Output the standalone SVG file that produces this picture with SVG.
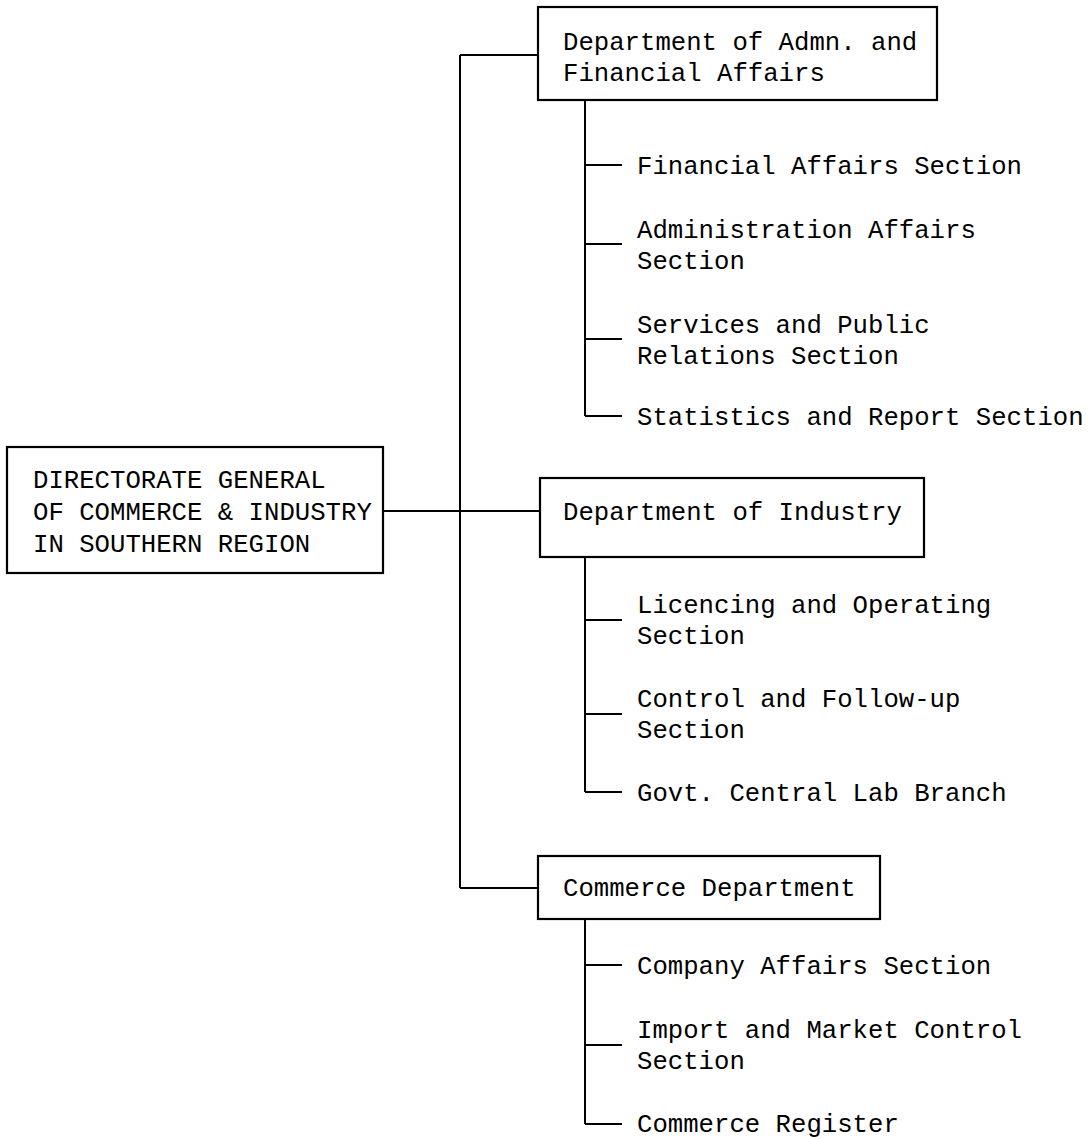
<svg xmlns="http://www.w3.org/2000/svg" width="1092" height="1139" viewBox="0 0 1092 1139">
<style>
.box{fill:none;stroke:#000;stroke-width:2.2}
.ln{fill:none;stroke:#000;stroke-width:2}
.t{font-family:"Liberation Mono","Courier New",monospace;font-size:25.7px;fill:#000}
</style>
<rect width="1092" height="1139" fill="#fff"/>
<g id="connectors">
<path class="ln" d="M383 511 H540"/>
<path class="ln" d="M460 55 V888 M460 55 H538 M460 888 H538"/>
<path class="ln" d="M585 100 V416 M585 165 H622 M585 244 H622 M585 339 H622 M585 416 H622"/>
<path class="ln" d="M585 557 V792 M585 620 H622 M585 714 H622 M585 792 H622"/>
<path class="ln" d="M585 919 V1124 M585 965 H622 M585 1045 H622 M585 1124 H622"/>
</g>
<g id="directorate">
<rect class="box" x="7" y="447" width="376" height="126"/>
<text class="t" x="33" y="488" textLength="292.6" lengthAdjust="spacingAndGlyphs">DIRECTORATE GENERAL</text>
<text class="t" x="33" y="520" textLength="338.8" lengthAdjust="spacingAndGlyphs">OF COMMERCE &amp; INDUSTRY</text>
<text class="t" x="33" y="552" textLength="277.2" lengthAdjust="spacingAndGlyphs">IN SOUTHERN REGION</text>
</g>
<g id="dept-admn">
<rect class="box" x="538" y="7" width="399" height="93"/>
<text class="t" x="563" y="50" textLength="354.2" lengthAdjust="spacingAndGlyphs">Department of Admn. and</text>
<text class="t" x="563" y="81" textLength="261.8" lengthAdjust="spacingAndGlyphs">Financial Affairs</text>
</g>
<g id="financial-affairs"><text class="t" x="637" y="174" textLength="385" lengthAdjust="spacingAndGlyphs">Financial Affairs Section</text></g>
<g id="administration-affairs">
<text class="t" x="637" y="238" textLength="338.8" lengthAdjust="spacingAndGlyphs">Administration Affairs</text>
<text class="t" x="637" y="269" textLength="107.8" lengthAdjust="spacingAndGlyphs">Section</text>
</g>
<g id="services-public">
<text class="t" x="637" y="333" textLength="292.6" lengthAdjust="spacingAndGlyphs">Services and Public</text>
<text class="t" x="637" y="364" textLength="261.8" lengthAdjust="spacingAndGlyphs">Relations Section</text>
</g>
<g id="statistics"><text class="t" x="637" y="425" textLength="446.6" lengthAdjust="spacingAndGlyphs">Statistics and Report Section</text></g>
<g id="dept-industry">
<rect class="box" x="540" y="478" width="384" height="79"/>
<text class="t" x="563" y="520" textLength="338.8" lengthAdjust="spacingAndGlyphs">Department of Industry</text>
</g>
<g id="licencing">
<text class="t" x="637" y="613" textLength="354.2" lengthAdjust="spacingAndGlyphs">Licencing and Operating</text>
<text class="t" x="637" y="644" textLength="107.8" lengthAdjust="spacingAndGlyphs">Section</text>
</g>
<g id="control">
<text class="t" x="637" y="707" textLength="323.4" lengthAdjust="spacingAndGlyphs">Control and Follow-up</text>
<text class="t" x="637" y="738" textLength="107.8" lengthAdjust="spacingAndGlyphs">Section</text>
</g>
<g id="govt-lab"><text class="t" x="637" y="801" textLength="369.6" lengthAdjust="spacingAndGlyphs">Govt. Central Lab Branch</text></g>
<g id="commerce-dept">
<rect class="box" x="538" y="856" width="342" height="63"/>
<text class="t" x="563" y="896" textLength="292.6" lengthAdjust="spacingAndGlyphs">Commerce Department</text>
</g>
<g id="company-affairs"><text class="t" x="637" y="974" textLength="354.2" lengthAdjust="spacingAndGlyphs">Company Affairs Section</text></g>
<g id="import-market">
<text class="t" x="637" y="1038" textLength="385" lengthAdjust="spacingAndGlyphs">Import and Market Control</text>
<text class="t" x="637" y="1069" textLength="107.8" lengthAdjust="spacingAndGlyphs">Section</text>
</g>
<g id="commerce-register"><text class="t" x="637" y="1132" textLength="261.8" lengthAdjust="spacingAndGlyphs">Commerce Register</text></g>
</svg>
